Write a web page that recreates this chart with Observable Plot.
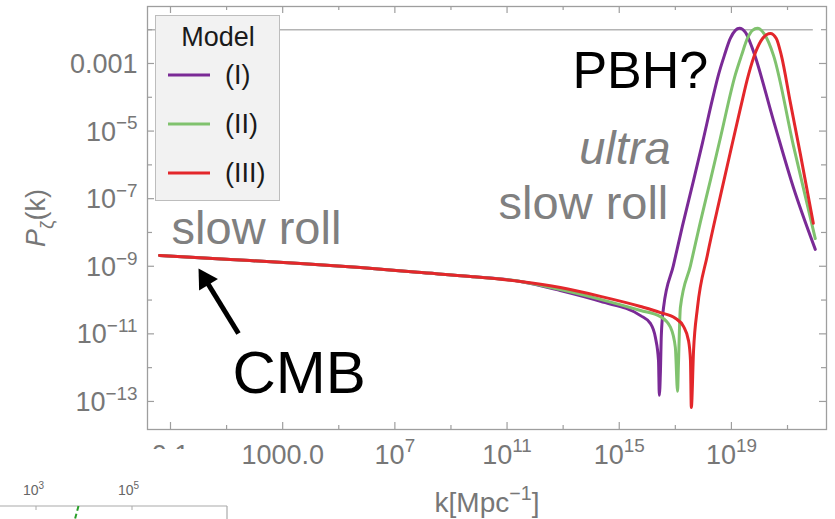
<!DOCTYPE html>
<html>
<head>
<meta charset="utf-8">
<script src="https://cdn.jsdelivr.net/npm/d3@7"></script>
<script src="https://cdn.jsdelivr.net/npm/@observablehq/plot@0.6"></script>
<style>
  html, body { margin: 0; padding: 0; background: white; }
  #wrap { position: relative; width: 835px; height: 519px; overflow: hidden; font-family: "Liberation Sans", Arial, sans-serif; }
  #legend { position: absolute; left: 155px; top: 15px; width: 125px; height: 186px; box-sizing: border-box;
            background: #f2f2f2; border: 1px solid #bdbdbd; }
  #frag { position: absolute; left: 0; top: 449px; width: 236px; height: 70px; background: white; }
</style>
</head>
<body>
<div id="wrap"></div>
<script>
// ---------------- data ----------------
const models = ["(I)", "(II)", "(III)"];
const modelColors = ["#7a2a96", "#80c26e", "#e3272b"];

// shared slow-roll plateau (log10 k, log10 P)
const slowRollLogK = [-1.39, 1.14, 3.63, 5.77, 7.81, 9.70, 11.48];
const slowRollLogP = [-8.68, -8.80, -8.92, -9.04, -9.18, -9.30, -9.45];

// model (I)
const modelILogK = [12.90, 14.33, 15.76, 16.11, 16.29, 16.40, 16.43, 16.47, 16.50, 16.58, 16.93, 17.25, 17.65, 17.97, 18.32, 18.54, 18.75, 18.96, 19.14, 19.29, 19.50, 19.75, 20.50, 21.21, 21.99];
const modelILogP = [-9.72, -10.04, -10.46, -10.69, -11.11, -11.79, -12.82, -12.08, -11.05, -10.22, -8.98, -7.82, -6.46, -5.34, -4.07, -3.33, -2.76, -2.26, -2.02, -1.96, -2.08, -2.56, -4.69, -6.67, -8.50];

// model (II)
const modelIILogK = [12.90, 14.33, 15.76, 16.47, 16.83, 17.00, 17.08, 17.11, 17.18, 17.54, 17.89, 18.25, 18.61, 19.14, 19.36, 19.57, 19.75, 19.93, 20.18, 20.50, 21.21, 21.99];
const modelIILogP = [-9.69, -9.98, -10.31, -10.49, -10.81, -11.40, -12.70, -11.93, -10.22, -8.98, -7.70, -6.46, -5.19, -3.33, -2.76, -2.26, -2.02, -1.96, -2.14, -2.76, -5.43, -8.18];

// model (III)
const modelIIILogK = [12.90, 14.33, 15.76, 16.47, 17.00, 17.29, 17.47, 17.54, 17.57, 17.65, 17.79, 18.14, 18.61, 18.96, 19.32, 19.61, 19.86, 20.11, 20.39, 20.60, 20.78, 21.10, 21.46, 21.92];
const modelIIILogP = [-9.63, -9.89, -10.19, -10.37, -10.54, -10.78, -11.20, -11.79, -13.18, -11.49, -10.22, -8.68, -6.91, -5.63, -4.33, -3.33, -2.67, -2.26, -2.11, -2.26, -2.76, -4.15, -5.69, -7.73];

// horizontal reference level
const refLevel = [0.01];
const refLevelEndLogK = 21.92;

// ticks
const kTicksLabeled = [0.1, 1e3, 1e7, 1e11, 1e15, 1e19];
const kTickLabels = ["0.1", "1000.0", "10^{7}", "10^{11}", "10^{15}", "10^{19}"];
const kTicksMinor = [10, 1e5, 1e9, 1e13, 1e17, 1e21];
const pTicksLabeled = [1e-3, 1e-5, 1e-7, 1e-9, 1e-11, 1e-13];
const pTickLabels = ["0.001", "10^{\u22125}", "10^{\u22127}", "10^{\u22129}", "10^{\u221211}", "10^{\u221213}"];
const pTicksMinor = [1e-2, 1e-4, 1e-6, 1e-8, 1e-10, 1e-12];

// annotations (log10 k, log10 P)
const annotationText = ["slow roll", "CMB", "PBH?", "ultra", "slow roll"];
const annotationLogK = [-0.96, 1.21, 13.33, 16.83, 16.75];
const annotationLogP = [-8.33, -12.76, -3.74, -5.96, -7.59];

// CMB arrow (tail -> head)
const arrowLogK = [1.424, 0.237];
const arrowLogP = [-10.99, -9.385];

const xTitle = "k[Mpc^{\u22121}]";
const yTitle = "*{P}_{\u03b6}(k)";

// ---------------- build ----------------
const seriesK = [modelILogK, modelIILogK, modelIIILogK];
const seriesP = [modelILogP, modelIILogP, modelIIILogP];
const lineData = models.flatMap((m, i) =>
  slowRollLogK.concat(seriesK[i]).map((lk, j) => ({
    model: m, k: 10 ** lk, P: 10 ** slowRollLogP.concat(seriesP[i])[j]
  })));
const ann = annotationText.map((t, i) => ({text: t, k: 10 ** annotationLogK[i], P: 10 ** annotationLogP[i]}));
const arrow = [{k1: 10 ** arrowLogK[0], P1: 10 ** arrowLogP[0], k2: 10 ** arrowLogK[1], P2: 10 ** arrowLogP[1]}];
const xLab = kTicksLabeled.map((v, i) => ({v, label: kTickLabels[i]}));
const yLab = pTicksLabeled.map((v, i) => ({v, label: pTickLabels[i]}));

const W = 835, H = 519, mL = 147, mR = 9, mT = 6, mB = 90;
const fw = W - mL - mR, fh = H - mT - mB;
const grey = "#777";
const frameGrey = "#9e9e9e";

const chart = Plot.plot({
  width: W, height: H,
  marginLeft: mL, marginRight: mR, marginTop: mT, marginBottom: mB,
  style: {fontFamily: "'Liberation Sans', Arial, sans-serif", background: "white"},
  x: {type: "log", domain: [10 ** -1.82, 10 ** 22.39], axis: null},
  y: {type: "log", domain: [10 ** -13.83, 10 ** -1.314], axis: null},
  color: {domain: models, range: modelColors},
  marks: [
    Plot.ruleY(refLevel, {stroke: "#b4b4b4", strokeWidth: 1.6, x1: 10 ** -1.82, x2: 10 ** refLevelEndLogK}),
    Plot.frame({stroke: frameGrey, strokeWidth: 1.3}),
    // left / right ticks
    Plot.tickY(pTicksLabeled, {stroke: frameGrey, strokeWidth: 1.2, insetRight: fw - 7}),
    Plot.tickY(pTicksMinor, {stroke: frameGrey, strokeWidth: 1.2, insetRight: fw - 5}),
    Plot.tickY(pTicksLabeled, {stroke: frameGrey, strokeWidth: 1.2, insetLeft: fw - 7}),
    Plot.tickY(pTicksMinor, {stroke: frameGrey, strokeWidth: 1.2, insetLeft: fw - 5}),
    // bottom / top ticks
    Plot.tickX(kTicksLabeled, {stroke: frameGrey, strokeWidth: 1.2, insetTop: fh - 7}),
    Plot.tickX(kTicksMinor, {stroke: frameGrey, strokeWidth: 1.2, insetTop: fh - 4}),
    Plot.tickX(kTicksLabeled, {stroke: frameGrey, strokeWidth: 1.2, insetBottom: fh - 7}),
    Plot.tickX(kTicksMinor, {stroke: frameGrey, strokeWidth: 1.2, insetBottom: fh - 4}),
    // tick labels
    Plot.text(yLab, {y: "v", text: "label", frameAnchor: "left", textAnchor: "end", dx: -10, dy: 1, fontSize: 27, fill: grey}),
    Plot.text(xLab, {x: "v", text: "label", frameAnchor: "bottom", textAnchor: "middle", lineAnchor: "bottom", dy: 34, fontSize: 27, fill: grey}),
    // axis titles
    Plot.text([xTitle], {frameAnchor: "bottom", textAnchor: "middle", lineAnchor: "bottom", dy: 82, fontSize: 28, fill: grey}),
    Plot.text([yTitle], {frameAnchor: "left", textAnchor: "middle", lineAnchor: "middle", dx: -111, rotate: -90, fontSize: 27, fill: grey}),
    // curves
    Plot.line(lineData, {x: "k", y: "P", z: "model", stroke: "model", strokeWidth: 3, curve: "monotone-x"}),
    // annotations
    Plot.text([ann[0]], {x: "k", y: "P", text: "text", textAnchor: "start", lineAnchor: "bottom", fontSize: 47, fill: "#808080"}),
    Plot.text([ann[1]], {x: "k", y: "P", text: "text", textAnchor: "start", lineAnchor: "bottom", fontSize: 60, fill: "#000"}),
    Plot.text([ann[2]], {x: "k", y: "P", text: "text", textAnchor: "start", lineAnchor: "bottom", fontSize: 52, fill: "#000"}),
    Plot.text([ann[3]], {x: "k", y: "P", text: "text", textAnchor: "end", lineAnchor: "bottom", fontSize: 47, fontStyle: "italic", fill: "#808080"}),
    Plot.text([ann[4]], {x: "k", y: "P", text: "text", textAnchor: "end", lineAnchor: "bottom", fontSize: 47, fill: "#808080"}),
    // arrow
    Plot.link(arrow, {x1: "k1", y1: "P1", x2: "k2", y2: "P2", stroke: "#000", strokeWidth: 5}),
    Plot.dot(arrow, {x: "k2", y: "P2", symbol: "triangle", r: 8.2, fill: "#000", stroke: "none", rotate: -31.6})
  ]
});

const wrap = document.getElementById("wrap");
wrap.appendChild(chart);

// rich text: ^{sup}, _{sub}, *{italic}
function richify(el) {
  const s = el.textContent;
  if (!/[\^_*]\{/.test(s)) return;
  const fs = parseFloat(getComputedStyle(el).fontSize) || 25;
  while (el.firstChild) el.removeChild(el.firstChild);
  const re = /([\^_*])\{([^}]*)\}/g;
  let last = 0, cur = 0, m;
  const add = (str, kind) => {
    if (!str) return;
    const t = document.createElementNS("http://www.w3.org/2000/svg", "tspan");
    const target = kind === "^" ? -0.42 * fs : kind === "_" ? 0.28 * fs : 0;
    if (target !== cur) { t.setAttribute("dy", target - cur); cur = target; }
    if (kind === "^" || kind === "_") t.setAttribute("font-size", 0.7 * fs);
    if (kind === "*") t.setAttribute("font-style", "italic");
    t.textContent = str;
    el.appendChild(t);
  };
  while ((m = re.exec(s))) { add(s.slice(last, m.index), ""); add(m[2], m[1]); last = re.lastIndex; }
  add(s.slice(last), "");
}
chart.querySelectorAll("text").forEach(el => {
  if (el.children.length === 0) richify(el);
  else el.querySelectorAll("tspan").forEach(richify);
});

// legend (inside frame, top-left)
const leg = document.createElement("div");
leg.id = "legend";
let lg = `<svg width="125" height="186" style="position:absolute;left:-1px;top:-1px;font-family:'Liberation Sans',Arial,sans-serif">`;
lg += `<text x="63" y="31" text-anchor="middle" font-size="27" fill="#1a1a1a">Model</text>`;
models.forEach((m, i) => {
  const yy = 60 + i * 49;
  lg += `<line x1="13" x2="55" y1="${yy}" y2="${yy}" stroke="${modelColors[i]}" stroke-width="3"/>`;
  lg += `<text x="70" y="${yy}" dy="0.35em" font-size="27" fill="#1a1a1a">${m}</text>`;
});
lg += `</svg>`;
leg.innerHTML = lg;
wrap.appendChild(leg);

// fragment of a neighbouring figure at the bottom-left
const frag = document.createElement("div");
frag.id = "frag";
frag.innerHTML = `<svg width="236" height="70" style="font-family:'Liberation Sans',Arial,sans-serif">
  <text x="23" y="46" font-size="14" fill="#666">10<tspan dy="-6" font-size="10">3</tspan></text>
  <text x="118" y="46" font-size="14" fill="#666">10<tspan dy="-6" font-size="10">5</tspan></text>
  <line x1="0" x2="227" y1="57" y2="57" stroke="#aaa" stroke-width="1.2"/>
  <line x1="227" x2="227" y1="57" y2="70" stroke="#aaa" stroke-width="1.2"/>
  <line x1="36" x2="36" y1="57" y2="61" stroke="#aaa"/>
  <line x1="132" x2="132" y1="57" y2="61" stroke="#aaa"/>
  <line x1="78.5" x2="75" y1="57" y2="70" stroke="#2aa02a" stroke-width="2" stroke-dasharray="5,3"/>
</svg>`;
wrap.appendChild(frag);
</script>
</body>
</html>
